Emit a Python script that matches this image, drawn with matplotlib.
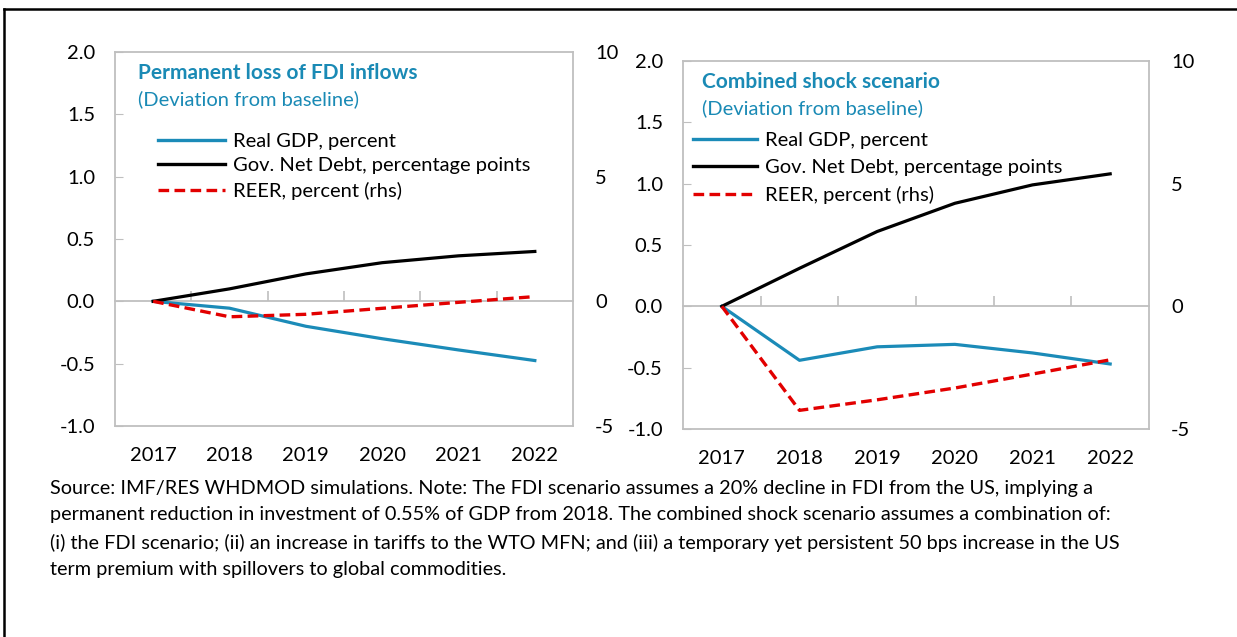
import matplotlib
matplotlib.use("Agg")
import matplotlib.pyplot as plt
from matplotlib.lines import Line2D

plt.rcParams['font.family'] = ['Lato', 'DejaVu Sans']
plt.rcParams['axes.unicode_minus'] = False

years = ['2017', '2018', '2019', '2020', '2021', '2022']

# Permanent loss of FDI inflows
fdi_gdp = [0.0, -0.055, -0.2, -0.3, -0.39, -0.475]
fdi_debt = [0.0, 0.1, 0.22, 0.31, 0.365, 0.4]
fdi_reer = [0.0, -0.62, -0.52, -0.28, -0.04, 0.19]

# Combined shock scenario
comb_gdp = [0.0, -0.44, -0.33, -0.31, -0.38, -0.47]
comb_debt = [0.0, 0.31, 0.61, 0.84, 0.99, 1.08]
comb_reer = [0.0, -4.24, -3.81, -3.33, -2.76, -2.18]

left_ticks = [-1.0, -0.5, 0.0, 0.5, 1.0, 1.5, 2.0]
right_ticks = [-5, 0, 5, 10]
labels = ['Real GDP, percent', 'Gov. Net Debt, percentage points', 'REER, percent (rhs)']

BLUE = '#1b8bb8'
TITLE_BLUE = '#1a8ab5'
RED = '#e20000'
GRAY = '#bfbfbf'
FS = 14.5

note = ("Source: IMF/RES WHDMOD simulations. Note: The FDI scenario assumes a 20% decline in FDI from the US, implying a\n"
        "permanent reduction in investment of 0.55% of GDP from 2018. The combined shock scenario assumes a combination of:\n"
        "(i) the FDI scenario; (ii) an increase in tariffs to the WTO MFN; and (iii) a temporary yet persistent 50 bps increase in the US\n"
        "term premium with spillovers to global commodities.")

W, H = 1237, 637
fig = plt.figure(figsize=(W / 100, H / 100), dpi=100)


def panel(box, gdp, debt, reer, title, tx, ty, sy, lx, ly, hlen, lspace):
    ax = fig.add_axes([box[0] / W, 1 - box[3] / H, (box[2] - box[0]) / W, (box[3] - box[1]) / H])
    x = range(len(years))
    ax.plot(x, gdp, color=BLUE, lw=2.3, zorder=3)
    ax.plot(x, debt, color='black', lw=2.3, zorder=3)
    ax.set_xlim(-0.5, len(years) - 0.5)
    ax.set_ylim(-1.0, 2.0)
    ax.set_yticks(left_ticks)
    ax.set_yticklabels(['%.1f' % v for v in left_ticks])
    ax.set_xticks(list(x))
    ax.set_xticklabels(years)
    ax.tick_params(axis='x', length=0, pad=15, labelsize=FS)
    ax.tick_params(axis='y', direction='in', length=6, color=GRAY, pad=14.4, labelsize=FS)
    for s in ax.spines.values():
        s.set_color(GRAY)
        s.set_linewidth(1.3)

    ax2 = ax.twinx()
    ax2.plot(x, reer, color=RED, lw=2.4, ls=(0, (3.2, 1.6)), zorder=3)
    ax2.set_ylim(-5, 10)
    ax2.set_yticks(right_ticks)
    ax2.tick_params(axis='y', length=0, pad=16, labelsize=FS)
    for s in ax2.spines.values():
        s.set_visible(False)

    # zero line with category-boundary ticks
    zero = ax.secondary_xaxis(1 / 3)
    zero.set_xticks([i + 0.5 for i in range(len(years) - 1)])
    zero.set_xticklabels([])
    zero.tick_params(direction='in', length=7, color=GRAY, width=1.2)
    zero.spines['bottom'].set_color(GRAY)
    zero.spines['bottom'].set_linewidth(1.3)

    ax.text(tx, ty, title, transform=ax.transAxes, color=TITLE_BLUE,
            fontsize=15, fontweight='bold', va='center')
    ax.text(tx, sy, '(Deviation from baseline)', transform=ax.transAxes,
            color=TITLE_BLUE, fontsize=FS, va='center')

    handles = [Line2D([], [], color=BLUE, lw=2.4),
               Line2D([], [], color='black', lw=2.4),
               Line2D([], [], color=RED, lw=2.4, ls=(0, (3.2, 1.6)))]
    ax.legend(handles, labels, loc='center left', bbox_to_anchor=(lx, ly),
              frameon=False, fontsize=FS, handlelength=hlen, handletextpad=0.38,
              labelspacing=lspace, borderaxespad=0, borderpad=0)
    return ax


panel((115, 52, 573, 426), fdi_gdp, fdi_debt, fdi_reer, 'Permanent loss of FDI inflows',
      0.05, 0.943, 0.874, 0.094, 0.695, 3.33, 0.37)
panel((683, 61, 1149, 429), comb_gdp, comb_debt, comb_reer, 'Combined shock scenario',
      0.04, 0.942, 0.871, 0.021, 0.709, 3.2, 0.49)

fig.text(50 / W, 1 - 480 / H, note, fontsize=14.3, va='top', ha='left', linespacing=1.67)

# outer frame (top and left edges)
fig.add_artist(Line2D([4 / W, 1.0], [1 - 9 / H, 1 - 9 / H], color='black', lw=1.8))
fig.add_artist(Line2D([4 / W, 4 / W], [0.0, 1 - 9 / H], color='black', lw=1.8))

fig.savefig('out.png', dpi=100)
